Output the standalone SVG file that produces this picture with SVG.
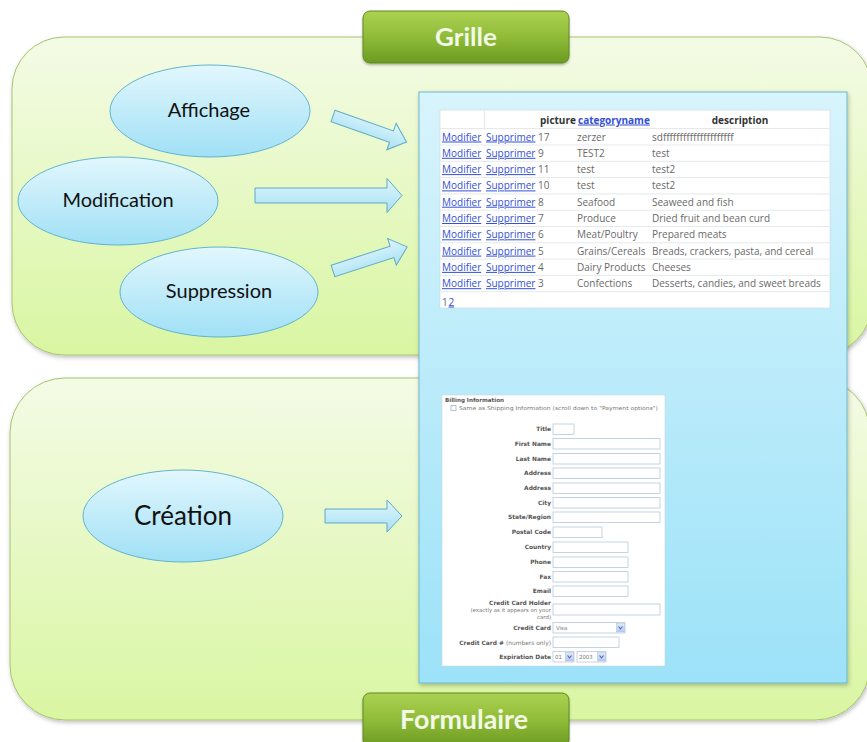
<svg xmlns="http://www.w3.org/2000/svg" width="867" height="742" viewBox="0 0 867 742">
<defs>
<linearGradient id="panelGrad" x1="0" y1="0" x2="0" y2="1">
<stop offset="0" stop-color="#f4fbe6"/><stop offset="1" stop-color="#d9f6a2"/>
</linearGradient>
<linearGradient id="ellGrad" x1="0" y1="0" x2="0" y2="1">
<stop offset="0" stop-color="#e2f7fd"/><stop offset="1" stop-color="#a0e0f6"/>
</linearGradient>
<linearGradient id="arrGrad" x1="0" y1="0" x2="0" y2="1">
<stop offset="0" stop-color="#e0f6fd"/><stop offset="1" stop-color="#a6e0f3"/>
</linearGradient>
<linearGradient id="blueGrad" x1="0" y1="0" x2="0" y2="1">
<stop offset="0" stop-color="#d8f4fc"/><stop offset="1" stop-color="#9ce2f8"/>
</linearGradient>
<linearGradient id="greenGrad" x1="0" y1="0" x2="0" y2="1">
<stop offset="0" stop-color="#acd152"/><stop offset="0.5" stop-color="#8fbc38"/><stop offset="1" stop-color="#6c9a22"/>
</linearGradient>
<linearGradient id="selGrad" x1="0" y1="0" x2="0" y2="1">
<stop offset="0" stop-color="#dfe8f8"/><stop offset="1" stop-color="#b7c9ec"/>
</linearGradient>
<filter id="sh" x="-10%" y="-10%" width="120%" height="125%">
<feDropShadow dx="1" dy="2" stdDeviation="2" flood-color="#000" flood-opacity="0.25"/>
</filter>
<filter id="shs" x="-10%" y="-10%" width="120%" height="130%">
<feDropShadow dx="0" dy="1.5" stdDeviation="1.2" flood-color="#000" flood-opacity="0.3"/>
</filter>
</defs>
<style>
.panel{fill:url(#panelGrad);stroke:#a9c46e;stroke-width:1}
.ell{fill:url(#ellGrad);stroke:#62b4cc;stroke-width:1}
.ellt{font-family:Lato,"Open Sans",sans-serif;fill:#111;text-anchor:middle}
.arr{fill:url(#arrGrad);stroke:#5daac4;stroke-width:1}
.hdr{fill:url(#greenGrad);stroke:#5f8a1f;stroke-width:1}
.hdrt{font-family:Lato,"Open Sans",sans-serif;font-weight:bold;fill:#f3f9e6;text-anchor:middle}
.tb{font-family:"Open Sans","Noto Sans",sans-serif;font-size:10px}
.th{fill:#333;font-weight:bold}
.lk{fill:#3450d4;text-decoration:underline}
.dt{fill:#6a6a6a}
.rl{stroke:#e6e9ec;stroke-width:1}
.fl{font-family:"DejaVu Sans",Verdana,sans-serif;font-size:5.9px;font-weight:bold;fill:#555;text-anchor:end}
.fs{font-family:"DejaVu Sans",Verdana,sans-serif;font-size:5.6px;font-weight:bold;fill:#555}
.fn{font-family:"DejaVu Sans",Verdana,sans-serif;font-size:5.4px;fill:#777}
.in{fill:#fff;stroke:#b9c9d9;stroke-width:0.8}
.dd{fill:url(#selGrad);stroke:#a9bde0;stroke-width:0.5}
.chev{fill:none;stroke:#4a6fc0;stroke-width:1.1}
</style>

<g id="panel-grille">
<rect class="panel" x="12" y="37" width="860" height="318" rx="52" filter="url(#sh)"/>
</g>
<g id="panel-formulaire">
<rect class="panel" x="10" y="378" width="860" height="342" rx="55" filter="url(#sh)"/>
</g>

<g id="screenshot">
<rect x="419" y="92" width="428" height="591" fill="url(#blueGrad)" stroke="#6eb7c9" stroke-width="1" filter="url(#sh)"/>
<g id="grid-table" class="tb">
<rect x="440" y="110" width="390" height="198" fill="#fff" stroke="#c9d6dc" stroke-width="0.6"/>
<line class="rl" x1="440" y1="128.5" x2="830" y2="128.5"/>
<line class="rl" x1="440" y1="145" x2="830" y2="145"/>
<line class="rl" x1="440" y1="161.3" x2="830" y2="161.3"/>
<line class="rl" x1="440" y1="177.6" x2="830" y2="177.6"/>
<line class="rl" x1="440" y1="193.9" x2="830" y2="193.9"/>
<line class="rl" x1="440" y1="210.2" x2="830" y2="210.2"/>
<line class="rl" x1="440" y1="226.5" x2="830" y2="226.5"/>
<line class="rl" x1="440" y1="242.8" x2="830" y2="242.8"/>
<line class="rl" x1="440" y1="259.1" x2="830" y2="259.1"/>
<line class="rl" x1="440" y1="275.4" x2="830" y2="275.4"/>
<line class="rl" x1="440" y1="291.7" x2="830" y2="291.7"/>
<line class="rl" x1="484.5" y1="110" x2="484.5" y2="128.5"/>
<text class="th" x="540" y="123.5">picture</text>
<text class="th lk" x="578" y="123.5">categoryname</text>
<text class="th" x="740" y="123.5" text-anchor="middle">description</text>

<text y="140.5"><tspan class="lk" x="442">Modifier</tspan><tspan class="lk" x="486">Supprimer</tspan><tspan class="dt" x="538">17</tspan><tspan class="dt" x="577">zerzer</tspan><tspan class="dt" x="652">sdfffffffffffffffffffff</tspan></text>
<text y="156.8"><tspan class="lk" x="442">Modifier</tspan><tspan class="lk" x="486">Supprimer</tspan><tspan class="dt" x="538">9</tspan><tspan class="dt" x="577">TEST2</tspan><tspan class="dt" x="652">test</tspan></text>
<text y="173.1"><tspan class="lk" x="442">Modifier</tspan><tspan class="lk" x="486">Supprimer</tspan><tspan class="dt" x="538">11</tspan><tspan class="dt" x="577">test</tspan><tspan class="dt" x="652">test2</tspan></text>
<text y="189.4"><tspan class="lk" x="442">Modifier</tspan><tspan class="lk" x="486">Supprimer</tspan><tspan class="dt" x="538">10</tspan><tspan class="dt" x="577">test</tspan><tspan class="dt" x="652">test2</tspan></text>
<text y="205.7"><tspan class="lk" x="442">Modifier</tspan><tspan class="lk" x="486">Supprimer</tspan><tspan class="dt" x="538">8</tspan><tspan class="dt" x="577">Seafood</tspan><tspan class="dt" x="652">Seaweed and fish</tspan></text>
<text y="222"><tspan class="lk" x="442">Modifier</tspan><tspan class="lk" x="486">Supprimer</tspan><tspan class="dt" x="538">7</tspan><tspan class="dt" x="577">Produce</tspan><tspan class="dt" x="652">Dried fruit and bean curd</tspan></text>
<text y="238.3"><tspan class="lk" x="442">Modifier</tspan><tspan class="lk" x="486">Supprimer</tspan><tspan class="dt" x="538">6</tspan><tspan class="dt" x="577">Meat/Poultry</tspan><tspan class="dt" x="652">Prepared meats</tspan></text>
<text y="254.6"><tspan class="lk" x="442">Modifier</tspan><tspan class="lk" x="486">Supprimer</tspan><tspan class="dt" x="538">5</tspan><tspan class="dt" x="577">Grains/Cereals</tspan><tspan class="dt" x="652">Breads, crackers, pasta, and cereal</tspan></text>
<text y="270.9"><tspan class="lk" x="442">Modifier</tspan><tspan class="lk" x="486">Supprimer</tspan><tspan class="dt" x="538">4</tspan><tspan class="dt" x="577">Dairy Products</tspan><tspan class="dt" x="652">Cheeses</tspan></text>
<text y="287.2"><tspan class="lk" x="442">Modifier</tspan><tspan class="lk" x="486">Supprimer</tspan><tspan class="dt" x="538">3</tspan><tspan class="dt" x="577">Confections</tspan><tspan class="dt" x="652">Desserts, candies, and sweet breads</tspan></text>
<text y="305.5"><tspan class="dt" x="442">1</tspan><tspan class="lk" x="448.5">2</tspan></text>
</g>

<g id="billing-form">
<rect x="442" y="395" width="223" height="271" fill="#fff" stroke="#c9d6dc" stroke-width="0.6"/>
<text class="fs" x="445" y="401.5">Billing Information</text>
<rect x="451" y="405.5" width="5" height="5" fill="#fff" stroke="#7f9db9" stroke-width="0.6"/>
<text class="fn" x="459" y="410" textLength="199" lengthAdjust="spacingAndGlyphs">Same as Shipping Information (scroll down to "Payment options")</text>

<text class="fl" x="551" y="431">Title</text><rect class="in" x="553" y="424" width="21" height="10.5"/>
<text class="fl" x="551" y="445.5">First Name</text><rect class="in" x="553" y="438.5" width="107" height="10.5"/>
<text class="fl" x="551" y="460.5">Last Name</text><rect class="in" x="553" y="453.5" width="107" height="10.5"/>
<text class="fl" x="551" y="475">Address</text><rect class="in" x="553" y="468" width="107" height="10.5"/>
<text class="fl" x="551" y="490">Address</text><rect class="in" x="553" y="483" width="107" height="10.5"/>
<text class="fl" x="551" y="504.5">City</text><rect class="in" x="553" y="497.5" width="107" height="10.5"/>
<text class="fl" x="551" y="519">State/Region</text><rect class="in" x="553" y="512" width="107" height="10.5"/>
<text class="fl" x="551" y="534">Postal Code</text><rect class="in" x="553" y="527" width="49" height="10.5"/>
<text class="fl" x="551" y="549">Country</text><rect class="in" x="553" y="542" width="75" height="10.5"/>
<text class="fl" x="551" y="564">Phone</text><rect class="in" x="553" y="557" width="75" height="10.5"/>
<text class="fl" x="551" y="578.5">Fax</text><rect class="in" x="553" y="571.5" width="75" height="10.5"/>
<text class="fl" x="551" y="593">Email</text><rect class="in" x="553" y="586" width="75" height="10.5"/>
<text class="fl" x="551" y="605">Credit Card Holder</text>
<text class="fn" x="551" y="612" text-anchor="end">(exactly as it appears on your</text>
<text class="fn" x="551" y="619" text-anchor="end">card)</text>
<rect class="in" x="553" y="604" width="107" height="11"/>
<text class="fl" x="551" y="630">Credit Card</text>
<rect class="in" x="553" y="622.5" width="72" height="10.5"/>
<text class="fn" x="556" y="630" fill="#555">Visa</text>
<rect class="dd" x="616.5" y="623.5" width="8" height="8.5"/>
<path class="chev" d="M618.5 626.5 L620.5 628.8 L622.5 626.5"/>
<text class="fl" x="551" y="644.5">Credit Card # <tspan font-weight="normal" fill="#777">(numbers only)</tspan></text>
<rect class="in" x="553" y="637" width="66" height="10.5"/>
<text class="fl" x="551" y="659">Expiration Date</text>
<rect class="in" x="553" y="651.5" width="21" height="10.5"/>
<text class="fn" x="555" y="659" fill="#555">01</text>
<rect class="dd" x="565.5" y="652.5" width="8" height="8.5"/>
<path class="chev" d="M567.5 655.5 L569.5 657.8 L571.5 655.5"/>
<rect class="in" x="577" y="651.5" width="29" height="10.5"/>
<text class="fn" x="579" y="659" fill="#555">2003</text>
<rect class="dd" x="597.5" y="652.5" width="8" height="8.5"/>
<path class="chev" d="M599.5 655.5 L601.5 657.8 L603.5 655.5"/>
</g>
</g>

<g id="header-grille">
<rect class="hdr" x="363" y="11" width="206" height="52" rx="7" filter="url(#shs)"/>
<text class="hdrt" x="466" y="45.5" font-size="25" textLength="62" lengthAdjust="spacingAndGlyphs">Grille</text>
</g>
<g id="header-formulaire">
<rect class="hdr" x="363" y="693" width="206" height="54" rx="7" filter="url(#shs)"/>
<text class="hdrt" x="464" y="729" font-size="26" textLength="128" lengthAdjust="spacingAndGlyphs">Formulaire</text>
</g>

<g id="node-affichage">
<ellipse class="ell" cx="210" cy="111" rx="100" ry="46"/>
<text class="ellt" x="209" y="117" font-size="20">Affichage</text>
</g>
<g id="node-modification">
<ellipse class="ell" cx="118" cy="201" rx="100" ry="44"/>
<text class="ellt" x="118" y="207" font-size="20">Modification</text>
</g>
<g id="node-suppression">
<ellipse class="ell" cx="219" cy="292" rx="99" ry="45"/>
<text class="ellt" x="219" y="298" font-size="20">Suppression</text>
</g>
<g id="node-creation">
<ellipse class="ell" cx="183" cy="516" rx="100" ry="46"/>
<text class="ellt" x="183" y="525" font-size="26">Création</text>
</g>

<g id="connectors">
<polygon class="arr" transform="translate(333,116) rotate(19.4)" points="0,-6 62,-6 62,-14 78,0 62,14 62,6 0,6"/>
<polygon class="arr" transform="translate(255,195.5)" points="0,-7.5 132,-7.5 132,-17 147,0 132,17 132,7.5 0,7.5"/>
<polygon class="arr" transform="translate(333,271) rotate(-18)" points="0,-6 62,-6 62,-14 78,0 62,14 62,6 0,6"/>
<polygon class="arr" transform="translate(325,516)" points="0,-7 62,-7 62,-16 77,0 62,16 62,7 0,7"/>
</g>
</svg>
